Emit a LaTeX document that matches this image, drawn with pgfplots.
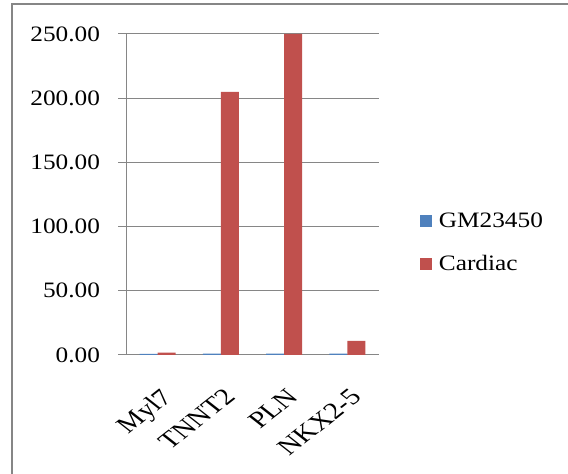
\documentclass[border=0pt]{standalone}
\usepackage{fontspec}
\setmainfont[FakeStretch=1.15]{Liberation Serif}
\newfontfamily\xlfont{Liberation Serif}
\usepackage{pgfplots}
\pgfplotsset{compat=1.18}
\definecolor{gmblue}{HTML}{4F81BD}
\definecolor{cred}{HTML}{C0504D}
\definecolor{axgray}{HTML}{868686}
\begin{document}
\begin{tikzpicture}[font=\fontsize{16.5pt}{19pt}\selectfont]
\path[use as bounding box] (0,0) rectangle (426pt,355.5pt);
\draw[axgray, line width=1pt] (9pt,0) -- (9pt,352.5pt) -- (426pt,352.5pt);
\begin{axis}[
  at={(94.5pt,89.25pt)}, anchor=south west,
  scale only axis, width=189.75pt, height=240.75pt,
  ymin=0, ymax=250, ytick={0,50,...,250},
  xmin=-0.5, xmax=3.5,
  xtick={0,1,2,3}, xticklabels={Myl7,TNNT2,PLN,NKX2-5},
  x tick style={draw=none},
  extra x ticks={-0.5,0.5,1.5,2.5,3.5},
  extra x tick labels={},
  extra x tick style={grid=none, tick align=outside, major tick length=6pt, tick style={axgray, line width=0.75pt, draw=axgray}},
  y tick style={axgray, line width=0.75pt},
  tick align=outside, major tick length=6pt,
  axis x line*=bottom, axis y line*=left,
  axis line style={axgray, line width=0.75pt, -},
  ymajorgrids, grid style={axgray, line width=0.75pt},
  ybar=0pt, bar width=13.5pt,
  /pgf/number format/fixed, /pgf/number format/fixed zerofill, /pgf/number format/precision=2, /pgf/number format/assume math mode=true,
  yticklabel style={font=\fontsize{16.5pt}{19pt}\selectfont, xshift=-10pt},
  xticklabel style={font=\xlfont\fontsize{17.5pt}{20pt}\selectfont, inner sep=0pt, xshift=1.5pt, yshift=-18pt, cm={0.9,0.707,-0.9,0.707,(0,0)}, anchor=north east},
  legend style={at={(1.162,0.35)}, anchor=west, draw=none, fill=none, inner sep=0pt,
    font=\fontsize{16.5pt}{19pt}\selectfont, row sep=15pt},
  legend cell align=left,
  legend image code/.code={\fill[#1] (0pt,-4.5pt) rectangle (9pt,4.5pt); \path (12pt,0pt);},
  clip=false,
]
\addplot[fill=gmblue, draw=none] coordinates {(0,0.8) (1,1) (2,1) (3,1)};
\addplot[fill=cred, draw=none] coordinates {(0,1.8) (1,205) (2,250) (3,11)};
\legend{GM23450,Cardiac}
\end{axis}
\end{tikzpicture}
\end{document}
